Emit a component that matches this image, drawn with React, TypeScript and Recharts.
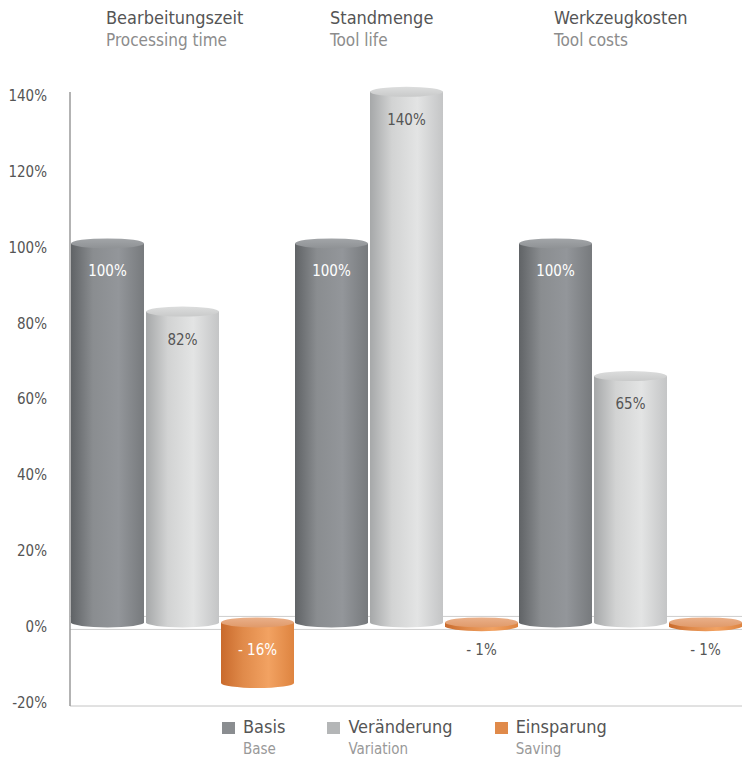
import { BarChart, Bar, XAxis, YAxis, LabelList, Legend, CartesianGrid } from "recharts";

const categories = ["Bearbeitungszeit", "Standmenge", "Werkzeugkosten"];
const categoriesEn = ["Processing time", "Tool life", "Tool costs"];
const basis = [100, 100, 100];
const variation = [82, 140, 65];
const saving = [-16, -1, -1];
const yTicks = [-20, 0, 20, 40, 60, 80, 100, 120, 140];
const yDomain = [-21, 141];
const seriesKeys = ["basis", "variation", "saving"];
const seriesNames = ["Basis", "Veränderung", "Einsparung"];
const seriesNamesEn = ["Base", "Variation", "Saving"];

const data = categories.map((name, i) => ({
  name,
  en: categoriesEn[i],
  basis: basis[i],
  variation: variation[i],
  saving: saving[i],
}));

const FONT = "'DejaVu Sans Condensed', 'Liberation Sans Narrow', 'Roboto Condensed', 'DejaVu Sans', sans-serif";

const STYLES: Record<string, any> = {
  basis: { stops: ["#606366", "#8a8d90", "#93969a", "#777a7d"], top: ["#a2a5a8", "#8f9295"], label: "#ffffff", legend: "#8a8d90" },
  variation: { stops: ["#a6a8a9", "#d2d3d3", "#e3e4e4", "#c4c5c6"], top: ["#dcdddd", "#c9caca"], label: "#555555", legend: "#b4b6b7" },
  saving: { stops: ["#c96a2c", "#e08a4a", "#f2a262", "#de8440"], top: ["#eab08a", "#e09a6a"], label: "#ffffff", legend: "#e08a4a" },
};

function Cylinder(props: any) {
  const { x, y, width, height, k } = props;
  const x0 = x + 1;
  const w = width - 2;
  const top = Math.min(y, y + height) - 4;
  const bottom = Math.max(y, y + height) - 4;
  const ry = 5;
  const rx = w / 2;
  return (
    <g>
      <path
        d={`M${x0},${top} L${x0},${bottom} A${rx},${ry} 0 0 0 ${x0 + w},${bottom} L${x0 + w},${top} Z`}
        fill={`url(#body-${k})`}
      />
      <ellipse cx={x0 + rx} cy={top} rx={rx} ry={ry} fill={`url(#top-${k})`} />
    </g>
  );
}

const makeLabel = (k: string) => (p: any) => {
  const { x, y, width, height, value } = p;
  const top = Math.min(y, y + height);
  const tall = Math.abs(height) > 30;
  const color = tall ? STYLES[k].label : "#555555";
  const text = value < 0 ? `- ${Math.abs(value)}%` : `${value}%`;
  return (
    <text x={x + width / 2} y={top + 24} textAnchor="middle" dominantBaseline="central" fontSize={15} fill={color} fontFamily={FONT}>
      {text}
    </text>
  );
};

const TitleTick = (p: any) => {
  const { x, payload, index } = p;
  return (
    <g>
      <text x={x - 76} y={24} fontSize={18} fill="#555555" fontFamily={FONT}>{payload.value}</text>
      <text x={x - 76} y={46} fontSize={17} fill="#8c8c8c" fontFamily={FONT}>{categoriesEn[index]}</text>
    </g>
  );
};

const renderLegend = () => (
  <div style={{ display: "flex", gap: 42, paddingLeft: 222, fontFamily: FONT }}>
    {seriesKeys.map((k, i) => (
      <div key={k} style={{ display: "flex", alignItems: "flex-start" }}>
        <div style={{ width: 13, height: 12, background: STYLES[k].legend, marginTop: 5, marginRight: 8 }} />
        <div>
          <div style={{ fontSize: 18, color: "#555555", lineHeight: "20px" }}>{seriesNames[i]}</div>
          <div style={{ fontSize: 15, color: "#999999", lineHeight: "24px" }}>{seriesNamesEn[i]}</div>
        </div>
      </div>
    ))}
  </div>
);

const gradient = (k: string) => {
  const s = STYLES[k];
  return [
    <linearGradient key={`b${k}`} id={`body-${k}`} x1="0" y1="0" x2="1" y2="0">
      <stop offset="0%" stopColor={s.stops[0]} />
      <stop offset="30%" stopColor={s.stops[1]} />
      <stop offset="65%" stopColor={s.stops[2]} />
      <stop offset="100%" stopColor={s.stops[3]} />
    </linearGradient>,
    <linearGradient key={`t${k}`} id={`top-${k}`} x1="0" y1="0" x2="0" y2="1">
      <stop offset="0%" stopColor={s.top[0]} />
      <stop offset="100%" stopColor={s.top[1]} />
    </linearGradient>,
  ];
};

// floor of the 3D look: a back edge just above zero and a front edge just below
const floorLines = (p: any) => {
  const off = p.offset;
  const zero = off.top + (off.height * yDomain[1]) / (yDomain[1] - yDomain[0]);
  return [zero - 10, zero + 3];
};

export default function App() {
  return (
    <div style={{ position: "absolute", left: 0, top: 0, width: 742, height: 760, background: "#fff", fontFamily: FONT }}>
      <BarChart
        width={742}
        height={760}
        data={data}
        margin={{ top: 0, right: 0, bottom: 0, left: 0 }}
        barCategoryGap={0}
        barGap={0}
      >
        <defs>
          {gradient("basis")}
          {gradient("variation")}
          {gradient("saving")}
        </defs>
        <CartesianGrid vertical={false} stroke="#cdcdcd" horizontalCoordinatesGenerator={floorLines} />
        <XAxis xAxisId="top" dataKey="name" orientation="top" height={92} axisLine={false} tickLine={false} tick={<TitleTick />} interval={0} />
        <XAxis dataKey="name" height={54} tick={false} tickLine={false} axisLine={{ stroke: "#c4c4c4" }} />
        <YAxis
          width={70}
          domain={yDomain}
          ticks={yTicks}
          interval={0}
          tickLine={false}
          tickMargin={17}
          axisLine={{ stroke: "#9a9a9a", strokeWidth: 1.5 }}
          tickFormatter={(v) => `${v}%`}
          tick={{ fontSize: 15, fill: "#555555", fontFamily: FONT }}
        />
        <Legend verticalAlign="middle" layout="horizontal" content={renderLegend} wrapperStyle={{ left: 0, top: 717, width: 742 }} />
        <Bar dataKey="basis" name="Basis" fill={STYLES.basis.legend} isAnimationActive={false} shape={(p: any) => <Cylinder {...p} k="basis" />}>
          <LabelList dataKey="basis" content={makeLabel("basis")} />
        </Bar>
        <Bar dataKey="variation" name="Veränderung" fill={STYLES.variation.legend} isAnimationActive={false} shape={(p: any) => <Cylinder {...p} k="variation" />}>
          <LabelList dataKey="variation" content={makeLabel("variation")} />
        </Bar>
        <Bar dataKey="saving" name="Einsparung" fill={STYLES.saving.legend} isAnimationActive={false} shape={(p: any) => <Cylinder {...p} k="saving" />}>
          <LabelList dataKey="saving" content={makeLabel("saving")} />
        </Bar>
      </BarChart>
    </div>
  );
}
